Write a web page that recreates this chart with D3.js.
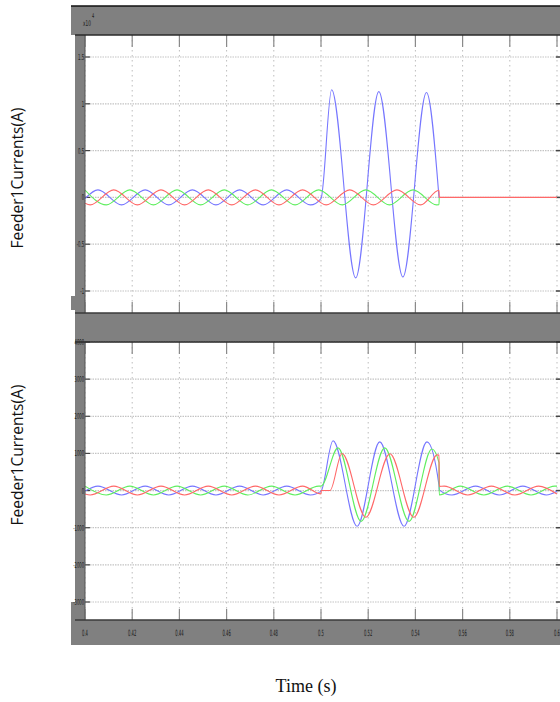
<!DOCTYPE html>
<html>
<head>
<meta charset="utf-8">
<script src="https://cdn.jsdelivr.net/npm/d3@7"></script>
<style>
  body { margin: 0; background: #fff; }
  svg { display: block; }
</style>
</head>
<body>
<svg id="chart"></svg>
<script>
// time axis (s)
const timeTicks = [0.4, 0.42, 0.44, 0.46, 0.48, 0.5, 0.52, 0.54, 0.56, 0.58, 0.6];
const timeLabels = ['0.4', '0.42', '0.44', '0.46', '0.48', '0.5', '0.52', '0.54', '0.56', '0.58', '0.6'];

// upper scope, values in x10^4 A
const topTicks = [1.5, 1, 0.5, 0, -0.5, -1];
const topLabels = ['1.5', '1', '0.5', '0', '-0.5', '-1'];
// lower scope, values in A
const bottomTicks = [4000, 3000, 2000, 1000, 0, -1000, -2000, -3000];
const bottomLabels = ['4000', '3000', '2000', '1000', '0', '-1000', '-2000', '-3000'];

// [time, value] knots (peaks / troughs / breaks)
const topBlue = [[0.4, -0.013], [0.4055, 0.08], [0.4155, -0.08], [0.4255, 0.08], [0.4355, -0.08], [0.4455, 0.08],
  [0.4555, -0.08], [0.4655, 0.08], [0.4755, -0.08], [0.4855, 0.08], [0.4955, -0.08], [0.5, -0.012],
  [0.5045, 1.15], [0.5147, -0.86], [0.5245, 1.13], [0.5347, -0.85], [0.5447, 1.12], [0.55, 0]];
const topGreen = [[0.4, 0.079], [0.409, -0.08], [0.419, 0.08], [0.429, -0.08], [0.439, 0.08], [0.449, -0.08],
  [0.459, 0.08], [0.469, -0.08], [0.479, 0.08], [0.489, -0.08], [0.499, 0.08], [0.509, -0.08], [0.519, 0.08],
  [0.529, -0.08], [0.539, 0.08], [0.549, -0.08], [0.55, -0.079], [0.5501, 0]];
const topRed = [[0.4, -0.062], [0.4022, -0.08], [0.4122, 0.08], [0.4222, -0.08], [0.4322, 0.08], [0.4422, -0.08],
  [0.4522, 0.08], [0.4622, -0.08], [0.4722, 0.08], [0.4822, -0.08], [0.4922, 0.08], [0.5022, -0.08],
  [0.5122, 0.08], [0.5222, -0.08], [0.5322, 0.08], [0.5422, -0.08], [0.55, 0.076], [0.5501, 0], [0.6, 0]];

const bottomBlue = [[0.4, -15], [0.4055, 120], [0.4155, -120], [0.4255, 120], [0.4355, -120], [0.4455, 120],
  [0.4555, -120], [0.4655, 120], [0.4755, -120], [0.4855, 120], [0.4955, -120], [0.5, -15],
  [0.5051, 1340], [0.5153, -960], [0.5249, 1310], [0.5352, -960], [0.5449, 1310], [0.55, 140],
  [0.5501, 19], [0.5555, -120], [0.5655, 120], [0.5755, -120], [0.5855, 120], [0.5955, -120], [0.6, -19]];
const bottomGreen = [[0.4, 118], [0.409, -120], [0.419, 120], [0.429, -120], [0.439, 120], [0.449, -120],
  [0.459, 120], [0.469, -120], [0.479, 120], [0.489, -120], [0.499, 120], [0.5, 119],
  [0.5072, 1150], [0.517, -830], [0.527, 1150], [0.5373, -830], [0.547, 1120], [0.55, 750],
  [0.5501, -118], [0.559, 120], [0.569, -120], [0.579, 120], [0.589, -120], [0.599, 120], [0.6, 119]];
const bottomRed = [[0.4, -92], [0.4022, -120], [0.4122, 120], [0.4222, -120], [0.4322, 120], [0.4422, -120],
  [0.4522, 120], [0.4622, -120], [0.4722, 120], [0.4822, -120], [0.4922, 120], [0.5, -92],
  [0.5001, 0], [0.5038, 0], [0.5089, 1000], [0.519, -720], [0.5292, 990], [0.5393, -720], [0.5492, 960],
  [0.55, 955], [0.5501, 113], [0.5522, 120], [0.5622, -120], [0.5722, 120], [0.5822, -120], [0.5922, 120], [0.6, -92]];

const colors = { blue: '#7676ff', green: '#5fee5f', red: '#ff6868' };
const grey = '#808080';

const svg = d3.select('#chart').attr('width', 560).attr('height', 702);
svg.append('rect').attr('width', 560).attr('height', 702).attr('fill', '#fff');

const x = d3.scaleLinear().domain([0.4, 0.6]).range([85, 557]);

function drawPanel(id, top, bottom, y, yTicks, yLabels, series) {
  const left = 85, right = 560;

  svg.append('clipPath').attr('id', id)
    .append('rect').attr('x', left).attr('y', top).attr('width', right - left).attr('height', bottom - top);

  const g = svg.append('g');

  // horizontal grid
  g.selectAll('.hgrid').data(yTicks).enter().append('line')
    .attr('x1', left).attr('x2', right)
    .attr('y1', d => y(d)).attr('y2', d => y(d))
    .attr('stroke', '#c4c4c4').attr('stroke-width', 1.2)
    .attr('stroke-dasharray', '1.5,1');

  // vertical grid
  g.selectAll('.vgrid').data(timeTicks).enter().append('line')
    .attr('x1', d => x(d)).attr('x2', d => x(d))
    .attr('y1', top).attr('y2', bottom)
    .attr('stroke', '#bdbdbd').attr('stroke-width', 1)
    .attr('stroke-dasharray', '1.5,3.5');

  // x ticks on top and bottom edges
  g.selectAll('.xt1').data(timeTicks).enter().append('line')
    .attr('x1', d => x(d)).attr('x2', d => x(d))
    .attr('y1', top).attr('y2', top + 12)
    .attr('stroke', '#8a8a8a').attr('stroke-width', 1.2);
  g.selectAll('.xt2').data(timeTicks).enter().append('line')
    .attr('x1', d => x(d)).attr('x2', d => x(d))
    .attr('y1', bottom - 11).attr('y2', bottom)
    .attr('stroke', '#8a8a8a').attr('stroke-width', 1.2);

  // y ticks on both sides
  g.selectAll('.yt1').data(yTicks).enter().append('line')
    .attr('x1', left).attr('x2', left + 5)
    .attr('y1', d => y(d)).attr('y2', d => y(d))
    .attr('stroke', '#444').attr('stroke-width', 1.2);
  g.selectAll('.yt2').data(yTicks).enter().append('line')
    .attr('x1', right - 4).attr('x2', right)
    .attr('y1', d => y(d)).attr('y2', d => y(d))
    .attr('stroke', '#444').attr('stroke-width', 1.5);

  const line = d3.line()
    .x(d => x(d[0]))
    .y(d => y(d[1]))
    .curve(d3.curveMonotoneX);

  g.append('g').attr('clip-path', `url(#${id})`)
    .selectAll('path').data(series).enter().append('path')
    .attr('d', d => line(d.values))
    .attr('fill', 'none')
    .attr('stroke', d => colors[d.key])
    .attr('stroke-width', 1.1);

  // grey side strip with tick labels
  svg.append('rect').attr('x', 75).attr('y', top).attr('width', 10).attr('height', bottom - top).attr('fill', grey);
  svg.append('line').attr('x1', 85).attr('x2', 85).attr('y1', top).attr('y2', bottom)
    .attr('stroke', '#555').attr('stroke-width', 1);

  svg.append('g').selectAll('text').data(yTicks).enter().append('text')
    .attr('transform', d => `translate(84,${y(d) + 3}) scale(0.62,1.35)`)
    .attr('text-anchor', 'end')
    .style('font-family', 'DejaVu Sans, sans-serif')
    .style('font-size', '6px')
    .attr('fill', '#1a1a1a')
    .text((d, i) => yLabels[i]);

  // edges
  svg.append('line').attr('x1', 75).attr('x2', right).attr('y1', top).attr('y2', top)
    .attr('stroke', '#2a2a2a').attr('stroke-width', 1.5);
  svg.append('line').attr('x1', 75).attr('x2', right).attr('y1', bottom).attr('y2', bottom)
    .attr('stroke', '#3a3a3a').attr('stroke-width', 1.5);
}

// scope frames
svg.append('rect').attr('x', 71).attr('y', 6).attr('width', 489).attr('height', 29).attr('fill', grey);
svg.append('line').attr('x1', 71).attr('x2', 560).attr('y1', 6).attr('y2', 6).attr('stroke', '#111').attr('stroke-width', 1.5);
svg.append('rect').attr('x', 71).attr('y', 296).attr('width', 5).attr('height', 14).attr('fill', grey);
svg.append('rect').attr('x', 75).attr('y', 313).attr('width', 485).attr('height', 29).attr('fill', grey);
svg.append('rect').attr('x', 71).attr('y', 602).attr('width', 5).attr('height', 43).attr('fill', grey);
svg.append('rect').attr('x', 71).attr('y', 620).attr('width', 489).attr('height', 25).attr('fill', grey);

// exponent label
svg.append('text')
  .attr('transform', 'translate(83,26) scale(0.7,1.3)')
  .style('font-family', 'DejaVu Sans, sans-serif').style('font-size', '6px')
  .attr('fill', '#1a1a1a').text('x10');
svg.append('text')
  .attr('transform', 'translate(92,18) scale(0.7,1.3)')
  .style('font-family', 'DejaVu Sans, sans-serif').style('font-size', '5px')
  .attr('fill', '#1a1a1a').text('4');

const yTop = d3.scaleLinear().domain([-1, 1.5]).range([291, 57]);
const yBottom = d3.scaleLinear().domain([-3000, 4000]).range([602, 342]);

drawPanel('clipTop', 35, 313, yTop, topTicks, topLabels, [
  { key: 'blue', values: topBlue },
  { key: 'green', values: topGreen },
  { key: 'red', values: topRed }
]);

drawPanel('clipBottom', 342, 620, yBottom, bottomTicks, bottomLabels, [
  { key: 'blue', values: bottomBlue },
  { key: 'green', values: bottomGreen },
  { key: 'red', values: bottomRed }
]);

// time tick labels in the bottom band
svg.append('g').selectAll('text').data(timeTicks).enter().append('text')
  .attr('transform', d => `translate(${x(d)},636) scale(0.62,1.45)`)
  .attr('text-anchor', 'middle')
  .style('font-family', 'DejaVu Sans, sans-serif')
  .style('font-size', '6px')
  .attr('fill', '#1a1a1a')
  .text((d, i) => timeLabels[i]);

// axis titles
svg.append('text')
  .attr('transform', 'translate(23,178) rotate(-90)')
  .attr('text-anchor', 'middle')
  .style('font-family', 'Open Sans, sans-serif')
  .style('font-size', '15.5px')
  .attr('fill', '#111')
  .text('Feeder1Currents(A)');

svg.append('text')
  .attr('transform', 'translate(23,455) rotate(-90)')
  .attr('text-anchor', 'middle')
  .style('font-family', 'Open Sans, sans-serif')
  .style('font-size', '15.5px')
  .attr('fill', '#111')
  .text('Feeder1Currents(A)');

svg.append('text')
  .attr('x', 306)
  .attr('y', 692)
  .attr('text-anchor', 'middle')
  .style('font-family', 'Liberation Serif, serif')
  .style('font-size', '18px')
  .attr('fill', '#111')
  .text('Time (s)');
</script>
</body>
</html>
